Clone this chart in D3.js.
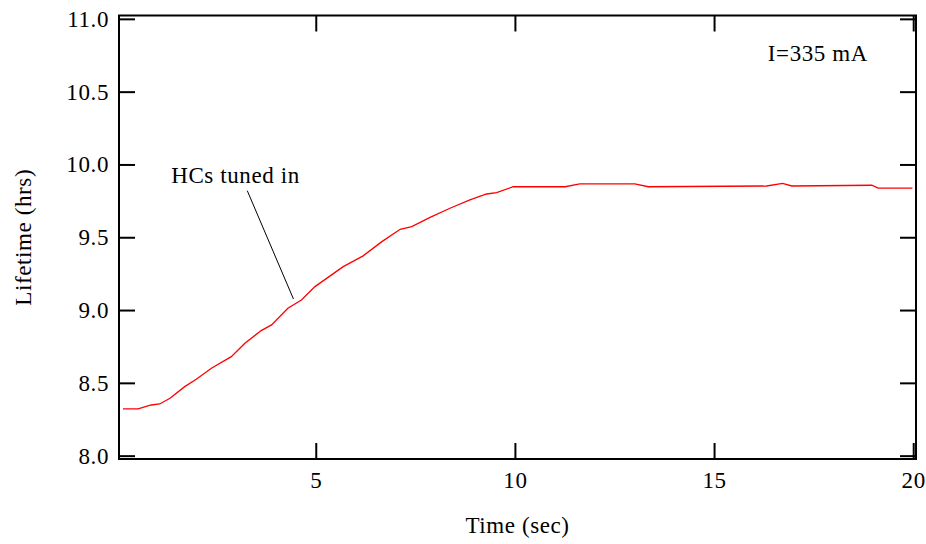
<!DOCTYPE html>
<html>
<head>
<meta charset="utf-8">
<script src="https://cdn.jsdelivr.net/npm/d3@7"></script>
<style>
  body { margin: 0; background: #fff; }
</style>
</head>
<body>
<svg id="chart" width="926" height="544"></svg>
<script>
// lifetime readings (time in sec, lifetime in hrs)
var time_sec = [0.16, 0.54, 0.87, 1.08, 1.34, 1.71, 2.00, 2.38, 2.88, 3.22, 3.63, 3.89, 4.30, 4.64, 4.98,
    5.69, 6.19, 6.66, 7.12, 7.41, 7.87, 8.37, 8.87, 9.29, 9.54, 9.96, 11.26, 11.63, 13.01, 13.35,
    16.32, 16.72, 16.95, 18.96, 19.12, 19.98];
var lifetime_hrs = [8.321, 8.321, 8.348, 8.355, 8.394, 8.474, 8.525, 8.600, 8.680, 8.772, 8.859, 8.898, 9.012, 9.069, 9.161,
    9.298, 9.372, 9.470, 9.555, 9.573, 9.637, 9.699, 9.756, 9.797, 9.806, 9.847, 9.847, 9.866, 9.866, 9.847,
    9.852, 9.870, 9.852, 9.857, 9.838, 9.838];

var x_ticks = [5, 10, 15, 20];
var y_ticks = [8.0, 8.5, 9.0, 9.5, 10.0, 10.5, 11.0];

var x_label = "Time (sec)";
var y_label = "Lifetime (hrs)";
var current_label = "I=335 mA";
var hc_label = "HCs tuned in";

// annotation anchors in data units
var current_pos = [16.35, 10.711];
var hc_pos = [1.37, 9.873];
var hc_leader = [[3.28, 9.820], [4.44, 9.076]];

chart();

function chart() {
    var svg = d3.select("#chart"),
        margin = {top: 15.5, left: 119, bottom: 85, right: 10},
        width = +svg.attr("width"),
        height = +svg.attr("height");

    var x = d3.scaleLinear()
        .domain([0.06, 20.07])
        .range([margin.left, width - margin.right]);

    var y = d3.scaleLinear()
        .domain([7.977, 11.023])
        .range([height - margin.bottom, margin.top]);

    var font = "'Liberation Serif', 'Times New Roman', serif",
        font_size = "23px", spacing = "0.6px";

    function text_style(sel) {
        sel.attr("fill", "#000")
            .style("font-family", font)
            .style("font-size", font_size)
            .style("letter-spacing", spacing);
    }

    // the data line goes first so the frame sits on top
    var line = d3.line()
        .x((d, i) => x(time_sec[i]))
        .y(d => y(d));

    svg.append("path")
        .datum(lifetime_hrs)
        .attr("fill", "none")
        .attr("stroke", "#ff0000")
        .attr("stroke-width", 1.3)
        .attr("d", line);

    // axes: ticks point inward on all four sides, labels only on left and bottom
    function style_axis(g) {
        g.attr("font-family", null).attr("font-size", null);
        g.select(".domain").remove();
        g.selectAll(".tick line").attr("stroke", "#000").attr("stroke-width", 2);
        g.selectAll(".tick text").call(text_style);
    }

    svg.append("g")
        .attr("transform", `translate(0,${y.range()[0]})`)
        .call(d3.axisBottom(x).tickValues(x_ticks).tickFormat(d3.format("d"))
            .tickSizeInner(-16).tickSizeOuter(0).tickPadding(13))
        .call(style_axis);

    svg.append("g")
        .attr("transform", `translate(0,${y.range()[1]})`)
        .call(d3.axisTop(x).tickValues(x_ticks).tickFormat("")
            .tickSizeInner(-16).tickSizeOuter(0))
        .call(style_axis);

    svg.append("g")
        .attr("transform", `translate(${x.range()[0]},0)`)
        .call(d3.axisLeft(y).tickValues(y_ticks).tickFormat(d3.format(".1f"))
            .tickSizeInner(-16).tickSizeOuter(0).tickPadding(10))
        .call(style_axis);

    svg.append("g")
        .attr("transform", `translate(${x.range()[1]},0)`)
        .call(d3.axisRight(y).tickValues(y_ticks).tickFormat("")
            .tickSizeInner(-16).tickSizeOuter(0))
        .call(style_axis);

    // frame
    svg.append("rect")
        .attr("x", x.range()[0])
        .attr("y", y.range()[1])
        .attr("width", x.range()[1] - x.range()[0])
        .attr("height", y.range()[0] - y.range()[1])
        .attr("fill", "none")
        .attr("stroke", "#000")
        .attr("stroke-width", 2);

    // axis titles
    svg.append("text")
        .attr("x", (x.range()[0] + x.range()[1]) / 2)
        .attr("y", 533)
        .attr("text-anchor", "middle")
        .call(text_style)
        .text(x_label);

    svg.append("text")
        .attr("transform", `translate(31,${(y.range()[0] + y.range()[1]) / 2}) rotate(-90)`)
        .attr("text-anchor", "middle")
        .call(text_style)
        .text(y_label);

    // annotations
    svg.append("text")
        .attr("x", x(current_pos[0]))
        .attr("y", y(current_pos[1]))
        .call(text_style)
        .text(current_label);

    svg.append("text")
        .attr("x", x(hc_pos[0]))
        .attr("y", y(hc_pos[1]))
        .call(text_style)
        .text(hc_label);

    svg.append("line")
        .attr("x1", x(hc_leader[0][0])).attr("y1", y(hc_leader[0][1]))
        .attr("x2", x(hc_leader[1][0])).attr("y2", y(hc_leader[1][1]))
        .attr("stroke", "#000")
        .attr("stroke-width", 1);
}
</script>
</body>
</html>
